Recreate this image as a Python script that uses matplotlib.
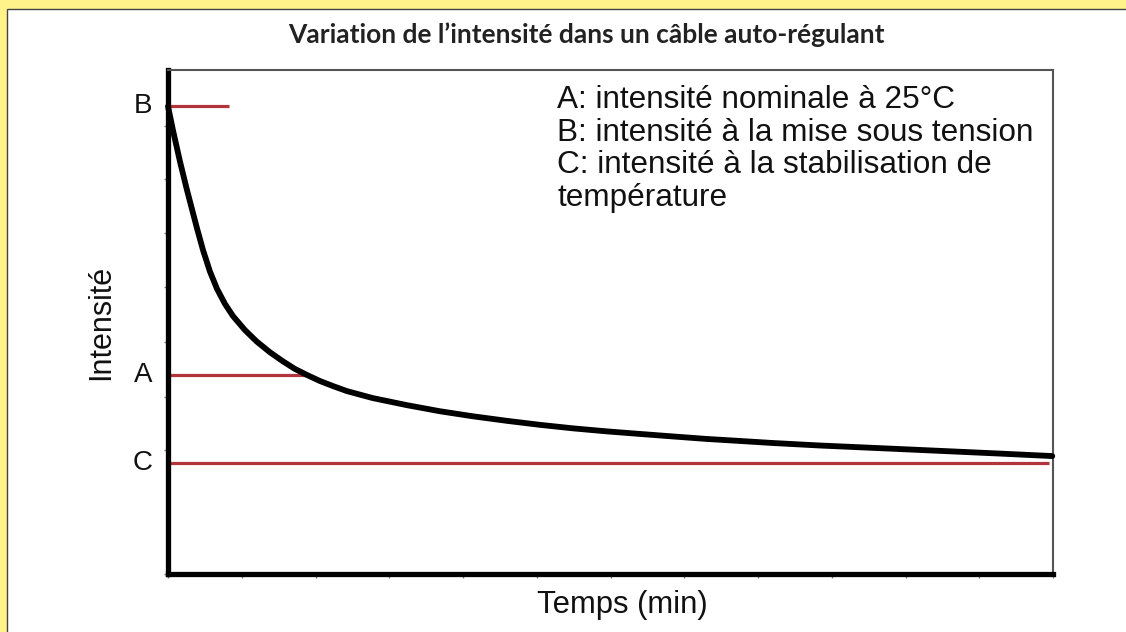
import matplotlib
matplotlib.use("Agg")
import matplotlib.pyplot as plt
from matplotlib.patches import Rectangle
import numpy as np

# Current through a self-regulating heating cable over time (arbitrary units)
temps = [0.0, 0.068, 0.163, 0.257, 0.325, 0.393, 0.474, 0.569, 0.664,
         0.772, 0.880, 1.043, 1.205, 1.382, 1.558, 1.720, 1.883, 2.059, 2.235,
         2.424, 2.60, 2.777, 3.24, 3.684, 4.13, 4.59, 5.04, 5.49, 5.95,
         6.39, 6.84, 7.30, 7.75, 8.19, 8.83, 9.91, 11.27, 11.99]
intensite = [9.28, 8.80, 8.18, 7.62, 7.24, 6.86, 6.43, 6.00, 5.66,
             5.36, 5.12, 4.84, 4.61, 4.40, 4.22, 4.07, 3.95, 3.83, 3.73,
             3.63, 3.56, 3.49, 3.35, 3.23, 3.13, 3.04, 2.96, 2.89, 2.83,
             2.78, 2.73, 2.68, 2.64, 2.60, 2.55, 2.48, 2.39, 2.34]

# Reference levels: name, value, end of the marker line on the time axis
niveaux = ["B", "A", "C"]
niveau_valeurs = [9.29, 3.95, 2.20]
niveau_fins = [0.83, 1.88, 11.95]

x_ticks = list(range(0, 13))
y_ticks = [0.0, 2.46, 3.51, 4.60, 5.69, 6.77, 7.84, 8.89]

legende = ["A: intensité nominale à 25°C",
           "B: intensité à la mise sous tension",
           "C: intensité à la stabilisation de",
           "température"]

W, H = 1126, 632
fig = plt.figure(figsize=(W / 100, H / 100), dpi=100)
fig.patch.set_facecolor("#FFF38A")

# white panel with a thin dark frame
panel = Rectangle((7 / W, -0.01), 1.2, (H - 9) / H + 0.01, transform=fig.transFigure,
                  facecolor="white", edgecolor="#444444", linewidth=1.0, zorder=-10)
fig.patches.append(panel)

ax = fig.add_axes([168 / W, 1 - 574 / H, (1053 - 168) / W, (574 - 70) / H])
ax.set_facecolor("white")
ax.set_xlim(0, 12)
ax.set_ylim(0, 10)

FS = 22.7
red = "#B3343C"
for nom, val, fin in zip(niveaux, niveau_valeurs, niveau_fins):
    ax.plot([0, fin], [val, val], color=red, lw=2.3, solid_capstyle="butt", zorder=2)
    ax.text(-0.34, val, nom, ha="center", va="center", fontsize=20,
            family="Liberation Sans", color="#111111")

ax.plot(temps, intensite, color="black", lw=4.2, solid_capstyle="round",
        solid_joinstyle="round", zorder=3, clip_on=False)

for side in ["left", "bottom"]:
    ax.spines[side].set_linewidth(3.8)
    ax.spines[side].set_color("black")
for side in ["top", "right"]:
    ax.spines[side].set_linewidth(1.5)
    ax.spines[side].set_color("#555555")

ax.set_xticks(x_ticks)
ax.set_yticks(y_ticks)
ax.set_xticklabels([])
ax.set_yticklabels([])
ax.tick_params(axis="both", direction="out", length=3, width=1, color="#777777")

ax.set_xlabel("Temps (min)", fontsize=22.3, family="Liberation Sans",
              color="#111111")
ax.xaxis.set_label_coords((622 - 168) / (1053 - 168), -(605 - 574) / (574 - 70))
ax.xaxis.label.set_va("center")
ax.set_ylabel("Intensité", fontsize=22, family="Liberation Sans",
              color="#111111", labelpad=31)

for i, ligne in enumerate(legende):
    fig.text(557 / W, 1 - (100 + 32.7 * i) / H, ligne, ha="left", va="center",
             fontsize=FS, family="Liberation Sans", color="#111111")

fig.text(586 / W, 1 - 35 / H, "Variation de l’intensité dans un câble auto-régulant",
         ha="center", va="center", fontsize=19, fontweight="bold",
         family="Lato", color="#222222")

fig.savefig("out.png", dpi=100, facecolor=fig.get_facecolor())
